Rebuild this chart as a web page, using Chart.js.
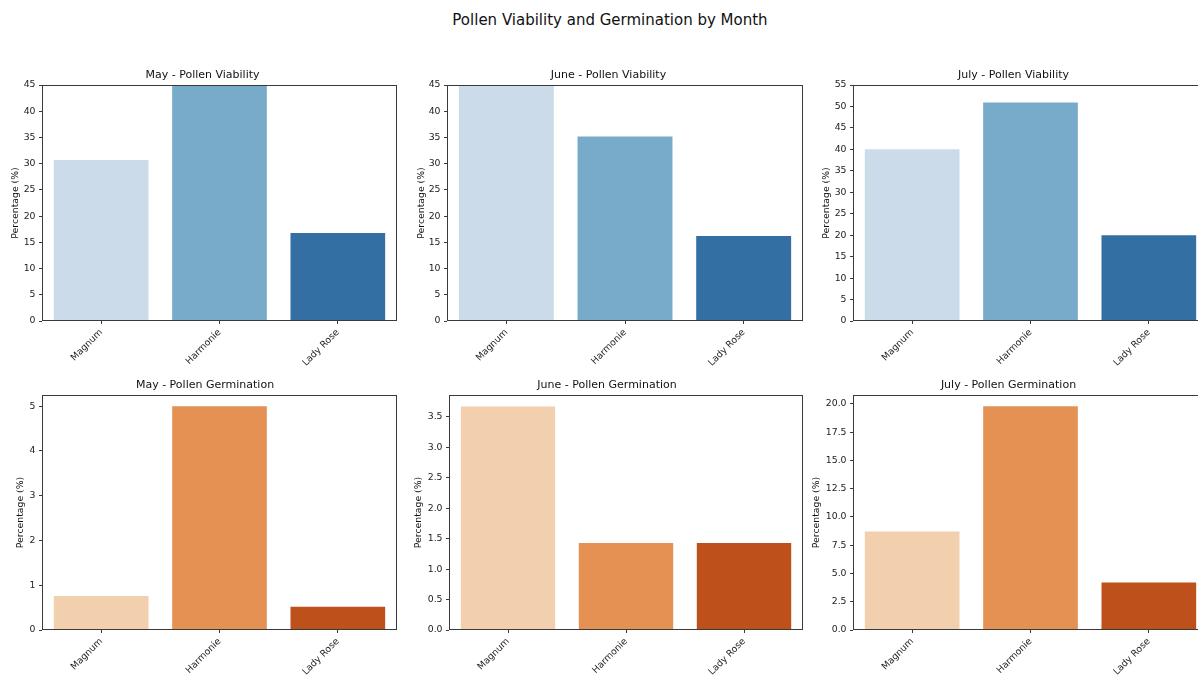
<!DOCTYPE html>
<html>
<head>
<meta charset="utf-8">
<script src="https://cdn.jsdelivr.net/npm/chart.js@4.4.1/dist/chart.umd.min.js"></script>
<style>
  html, body { margin:0; padding:0; background:#ffffff; width:1198px; height:675px; overflow:hidden; position:relative; }
  canvas { position:absolute; }
  #sup { position:absolute; left:410px; width:400px; top:11px; text-align:center;
         font:15px "DejaVu Sans", sans-serif; color:#111; line-height:18px; white-space:nowrap; }
</style>
</head>
<body>
<div id="sup">Pollen Viability and Germination by Month</div>
<canvas id="c0"></canvas><canvas id="c1"></canvas><canvas id="c2"></canvas>
<canvas id="c3"></canvas><canvas id="c4"></canvas><canvas id="c5"></canvas>
<script>
// ---------------- data ----------------
const varieties = ['Magnum', 'Harmonie', 'Lady Rose'];
const months = ['May', 'June', 'July'];

const viabilityMay  = [30.7, 45.0, 16.8];
const viabilityJune = [45.0, 35.2, 16.2];
const viabilityJuly = [40.0, 50.9, 20.0];

const germinationMay  = [0.76, 5.00, 0.52];
const germinationJune = [3.67, 1.43, 1.43];
const germinationJuly = [8.72, 19.79, 4.21];

// axis limits / tick steps / tick decimals
const viabilityYMax   = [45, 45, 55];
const viabilityYStep  = [5, 5, 5];
const viabilityDec    = [0, 0, 0];
const germinationYMax  = [5.25, 3.86, 20.78];
const germinationYStep = [1, 0.5, 2.5];
const germinationDec   = [0, 1, 1];

// ---------------- styles ----------------
const blues   = ['#cbdbea', '#78abc9', '#336fa2'];
const oranges = ['#f2d0ad', '#e59154', '#be501c'];
const FONT = '"DejaVu Sans", sans-serif';

// layout of each panel: canvas position, y-axis box width, x-axis box height, right padding
// (the right-hand column runs past the page edge, as in the reference)
const layout = [
  {left:8,   top:65,  width:391, height:306, yW:34, xH:50, padR:2},
  {left:414, top:65,  width:391, height:306, yW:33, xH:50, padR:2},
  {left:819, top:65,  width:390, height:306, yW:34, xH:50, padR:1},
  {left:13,  top:375, width:386, height:300, yW:29, xH:45, padR:2},
  {left:411, top:375, width:394, height:300, yW:38, xH:45, padR:2},
  {left:809, top:375, width:400, height:300, yW:44, xH:45, padR:1}
];

const frame = {
  id: 'frame',
  afterDatasetsDraw(chart) {
    const a = chart.chartArea, ctx = chart.ctx;
    ctx.save();
    ctx.strokeStyle = '#3a3a3a';
    ctx.lineWidth = 1;
    const l = Math.round(a.left) + 0.5, t = Math.round(a.top) + 0.5;
    const r = Math.round(a.right) - 0.5, b = Math.round(a.bottom) - 0.5;
    ctx.strokeRect(l, t, r - l, b - t);
    ctx.restore();
  }
};

const panels = [
  {title: months[0] + ' - Pollen Viability',   values: viabilityMay,    colors: blues,   yMax: viabilityYMax[0],   step: viabilityYStep[0],   dec: viabilityDec[0]},
  {title: months[1] + ' - Pollen Viability',   values: viabilityJune,   colors: blues,   yMax: viabilityYMax[1],   step: viabilityYStep[1],   dec: viabilityDec[1]},
  {title: months[2] + ' - Pollen Viability',   values: viabilityJuly,   colors: blues,   yMax: viabilityYMax[2],   step: viabilityYStep[2],   dec: viabilityDec[2]},
  {title: months[0] + ' - Pollen Germination', values: germinationMay,  colors: oranges, yMax: germinationYMax[0], step: germinationYStep[0], dec: germinationDec[0]},
  {title: months[1] + ' - Pollen Germination', values: germinationJune, colors: oranges, yMax: germinationYMax[1], step: germinationYStep[1], dec: germinationDec[1]},
  {title: months[2] + ' - Pollen Germination', values: germinationJuly, colors: oranges, yMax: germinationYMax[2], step: germinationYStep[2], dec: germinationDec[2]}
];

panels.forEach((p, i) => {
  const L = layout[i];
  const cv = document.getElementById('c' + i);
  cv.width = L.width; cv.height = L.height;
  cv.style.left = L.left + 'px'; cv.style.top = L.top + 'px';
  cv.style.width = L.width + 'px'; cv.style.height = L.height + 'px';

  new Chart(cv, {
    type: 'bar',
    data: {
      labels: varieties,
      datasets: [{
        data: p.values,
        backgroundColor: p.colors,
        borderWidth: 0,
        categoryPercentage: 1.0,
        barPercentage: 0.8
      }]
    },
    options: {
      responsive: false,
      animation: false,
      devicePixelRatio: 1,
      layout: { padding: { left: 0, right: L.padR, top: 0, bottom: 0 } },
      plugins: {
        legend: { display: false },
        tooltip: { enabled: false },
        title: {
          display: true, text: p.title, color: '#111',
          font: { family: FONT, size: 11, weight: 'normal', lineHeight: '13px' },
          padding: { top: 4, bottom: 3 }
        }
      },
      scales: {
        x: {
          type: 'category',
          offset: true,
          grid: { display: true, drawOnChartArea: false, drawTicks: true, tickLength: 3, offset: false, color: '#3a3a3a' },
          border: { display: false },
          ticks: {
            color: '#222', font: { family: FONT, size: 9.3 },
            minRotation: 45, maxRotation: 45, autoSkip: false, padding: 3
          },
          afterFit: (s) => { s.height = L.xH; }
        },
        y: {
          min: 0, max: p.yMax,
          grid: { display: true, drawOnChartArea: false, drawTicks: true, tickLength: 3, color: '#3a3a3a' },
          border: { display: false },
          ticks: {
            stepSize: p.step, includeBounds: false,
            color: '#222', font: { family: FONT, size: 9.3 }, padding: 3.5,
            callback: (v) => Number(v).toFixed(p.dec)
          },
          title: {
            display: true, text: 'Percentage (%)', color: '#111',
            font: { family: FONT, size: 9.3 }, padding: { top: 2, bottom: 0 }
          },
          afterFit: (s) => { s.width = L.yW; }
        }
      }
    },
    plugins: [frame]
  });
});
</script>
</body>
</html>
